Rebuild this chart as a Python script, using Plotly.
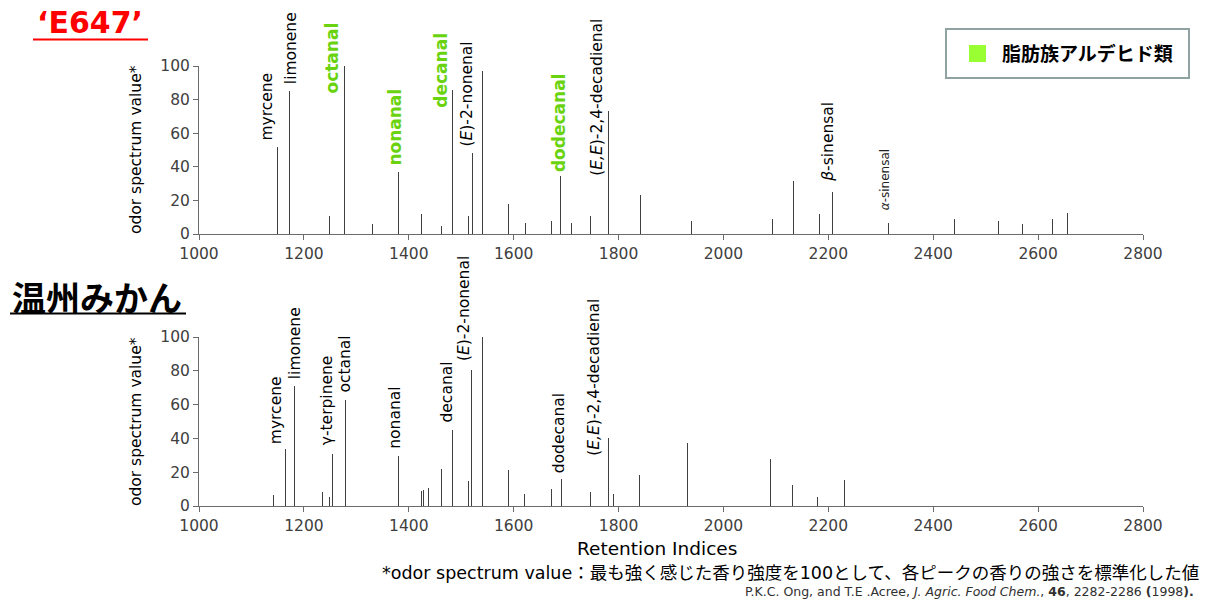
import plotly.graph_objects as go

W, H = 1210, 602

# ---------------- data ----------------
e647_ri = [1150, 1172, 1248, 1278, 1330, 1380, 1424, 1462, 1484, 1514, 1522, 1541, 1590, 1623, 1672,
           1690, 1711, 1746, 1781, 1841, 1939, 2094, 2133, 2184, 2208, 2314, 2440, 2525, 2571, 2627, 2656]
e647_osv = [52, 85, 11, 100, 6, 37, 12, 5, 86, 11, 48, 97, 18, 6.5, 8,
            34.5, 6.5, 10.5, 73, 23.5, 8, 9, 31.5, 12, 25, 6.3, 9, 8, 6, 9, 12.3]
e647_label_idx = [0, 1, 3, 5, 8, 10, 11, 15, 18, 24, 25]
e647_label_txt = ["myrcene", "limonene", "octanal", "nonanal", "decanal", "(<i>E</i>)-2-nonenal",
                  "linalool", "dodecanal", "(<i>E,E</i>)-2,4-decadienal", "<i>β</i>-sinensal",
                  "<i>α</i>-sinensal"]
e647_label_aldehyde = [False, False, True, True, True, False, False, True, False, False, False]

unshiu_ri = [1142, 1165, 1182, 1236, 1248, 1255, 1279, 1381, 1424, 1429, 1437, 1462, 1484, 1514, 1519,
             1540, 1591, 1620, 1672, 1691, 1746, 1781, 1791, 1840, 1932, 2090, 2131, 2180, 2230]
unshiu_osv = [6.5, 34, 71, 8, 5.5, 31, 63, 29.5, 8.7, 9.7, 10.7, 21.7, 45, 14.8, 80.7,
              100, 21.3, 6.9, 9.9, 16, 8.3, 40, 7.1, 18.1, 37, 27.6, 12.6, 5.5, 15.6]
unshiu_label_idx = [1, 2, 5, 6, 7, 12, 14, 15, 19, 21]
unshiu_label_txt = ["myrcene", "limonene", "γ-terpinene", "octanal", "nonanal", "decanal",
                    "(<i>E</i>)-2-nonenal", "linalool", "dodecanal", "(<i>E,E</i>)-2,4-decadienal"]

x_ticks = [1000, 1200, 1400, 1600, 1800, 2000, 2200, 2400, 2600, 2800]
y_ticks = [0, 20, 40, 60, 80, 100]

# ---------------- label placement (layout only) ----------------
e647_label_bottom = [54.8, 88.7, 83.2, 40, 74.8, 51.6, 102.6, 36.5, 34.1, 30.2, 13.3]
e647_label_shift = [-11, 2, -13, -3, -12, -6, 0, -2, -11, -4, -3]
unshiu_label_bottom = [35.7, 74.7, 35.2, 66.4, 33.2, 49, 85, 102.7, 19, 29.2]
unshiu_label_shift = [-10, 0, -6, 0, -4, -6, -7, 0, -3, -14]

LATIN = "DejaVu Sans, Verdana, Noto Sans CJK JP, sans-serif"
CJK = "Noto Sans CJK JP, DejaVu Sans, sans-serif"
BAR = "#404040"
AXIS = "#6b6b6b"
GREEN = "#6ad30f"


def px(x):
    return x / W


def py(y):
    return 1 - y / H


fig = go.Figure()
fig.add_trace(go.Bar(x=e647_ri, y=e647_osv, width=1.9, marker=dict(color=BAR, line=dict(width=0)),
                     xaxis="x", yaxis="y", showlegend=False, hoverinfo="skip"))
fig.add_trace(go.Bar(x=unshiu_ri, y=unshiu_osv, width=1.9, marker=dict(color=BAR, line=dict(width=0)),
                     xaxis="x2", yaxis="y2", showlegend=False, hoverinfo="skip"))

xdom = [px(199), px(1143)]
axis_common = dict(showline=True, linecolor=AXIS, linewidth=1, showgrid=False, zeroline=False,
                   ticks="outside", ticklen=5, tickcolor=AXIS, tickwidth=1, automargin=False,
                   tickfont=dict(family=LATIN, size=15.5, color="#404040"))

fig.update_layout(
    template="none",
    width=W, height=H,
    autosize=False,
    margin=dict(l=0, r=0, t=0, b=0, pad=0, autoexpand=False),
    showlegend=False,
    paper_bgcolor="white", plot_bgcolor="white",
    bargap=0,
    xaxis=dict(domain=xdom, range=[1000, 2800], tickvals=x_ticks, anchor="y", **axis_common),
    yaxis=dict(domain=[py(234), py(66)], range=[0, 100], tickvals=y_ticks, anchor="x", **axis_common),
    xaxis2=dict(domain=xdom, range=[1000, 2800], tickvals=x_ticks, anchor="y2", **axis_common),
    yaxis2=dict(domain=[py(506), py(337)], range=[0, 100], tickvals=y_ticks, anchor="x2", **axis_common),
)

ann = []
# peak labels, top chart
for i, idx in enumerate(e647_label_idx):
    ald = e647_label_aldehyde[i]
    txt = e647_label_txt[i]
    if ald:
        font = dict(family=LATIN, size=17, color=GREEN)
        txt = "<b>" + txt + "</b>"
    elif txt.endswith("α</i>-sinensal"):
        font = dict(family=LATIN, size=12, color="#202020")
    else:
        font = dict(family=LATIN, size=15.5, color="#000000")
    ann.append(dict(x=e647_ri[idx], y=e647_label_bottom[i], xref="x", yref="y", text=txt,
                    textangle=-90, showarrow=False, xanchor="center", yanchor="bottom",
                    xshift=e647_label_shift[i], font=font, borderpad=0))
# peak labels, bottom chart
for i, idx in enumerate(unshiu_label_idx):
    ann.append(dict(x=unshiu_ri[idx], y=unshiu_label_bottom[i], xref="x2", yref="y2",
                    text=unshiu_label_txt[i], textangle=-90, showarrow=False, xanchor="center",
                    yanchor="bottom", xshift=unshiu_label_shift[i],
                    font=dict(family=LATIN, size=15.5, color="#000000"), borderpad=0))

# y axis titles
for yc in [150, 422]:
    ann.append(dict(x=px(136), y=py(yc), xref="paper", yref="paper", text="odor spectrum value*",
                    textangle=-90, showarrow=False, xanchor="center", yanchor="middle",
                    font=dict(family=LATIN, size=15.5, color="#000000")))

# panel titles
ann.append(dict(x=px(90), y=py(23), xref="paper", yref="paper", text="<b>‘E647’</b>",
                showarrow=False, xanchor="center", yanchor="middle",
                font=dict(family=LATIN, size=30, color="#ff0000")))
ann.append(dict(x=px(97), y=py(296), xref="paper", yref="paper", text="<b>温州みかん</b>",
                showarrow=False, xanchor="center", yanchor="middle",
                font=dict(family=CJK, size=34, color="#000000")))

# x axis title
ann.append(dict(x=px(657), y=py(548), xref="paper", yref="paper", text="Retention Indices",
                showarrow=False, xanchor="center", yanchor="middle",
                font=dict(family=LATIN, size=18.5, color="#000000")))

# footnotes
ann.append(dict(x=px(1201), y=py(573), xref="paper", yref="paper",
                text="*odor spectrum value：最も強く感じた香り強度を100として、各ピークの香りの強さを標準化した値",
                showarrow=False, xanchor="right", yanchor="middle",
                font=dict(family=LATIN, size=17.5, color="#000000")))
ann.append(dict(x=px(1196), y=py(591), xref="paper", yref="paper",
                text="P.K.C. Ong, and T.E .Acree, <i>J. Agric. Food Chem.</i>, <b>46</b>, 2282-2286 <b>(</b>1998<b>).</b>",
                showarrow=False, xanchor="right", yanchor="middle",
                font=dict(family=LATIN, size=12.5, color="#303030")))

# legend text
ann.append(dict(x=px(1000), y=py(53), xref="paper", yref="paper", text="<b>脂肪族アルデヒド類</b>",
                showarrow=False, xanchor="left", yanchor="middle",
                font=dict(family=CJK, size=19, color="#000000")))

fig.update_layout(annotations=ann)

shapes = [
    # underline of E647
    dict(type="line", xref="paper", yref="paper", x0=px(33), x1=px(148), y0=py(39.5), y1=py(39.5),
         line=dict(color="#ff0000", width=2)),
    # underline of 温州みかん
    dict(type="line", xref="paper", yref="paper", x0=px(10), x1=px(186), y0=py(313.5), y1=py(313.5),
         line=dict(color="#000000", width=2)),
    # legend box
    dict(type="rect", xref="paper", yref="paper", x0=px(946), x1=px(1189), y0=py(78), y1=py(29),
         line=dict(color="#8fa3a3", width=2), fillcolor="white"),
    # legend swatch
    dict(type="rect", xref="paper", yref="paper", x0=px(969), x1=px(986), y0=py(62), y1=py(45),
         line=dict(width=0), fillcolor="#99ff33"),
]
fig.update_layout(shapes=shapes)

# remove the default page margin so the figure fills the window exactly
fig.write_html("out.html", config={"displayModeBar": False, "staticPlot": True},
               post_script="document.body.style.margin='0';document.body.style.overflow='hidden';")
